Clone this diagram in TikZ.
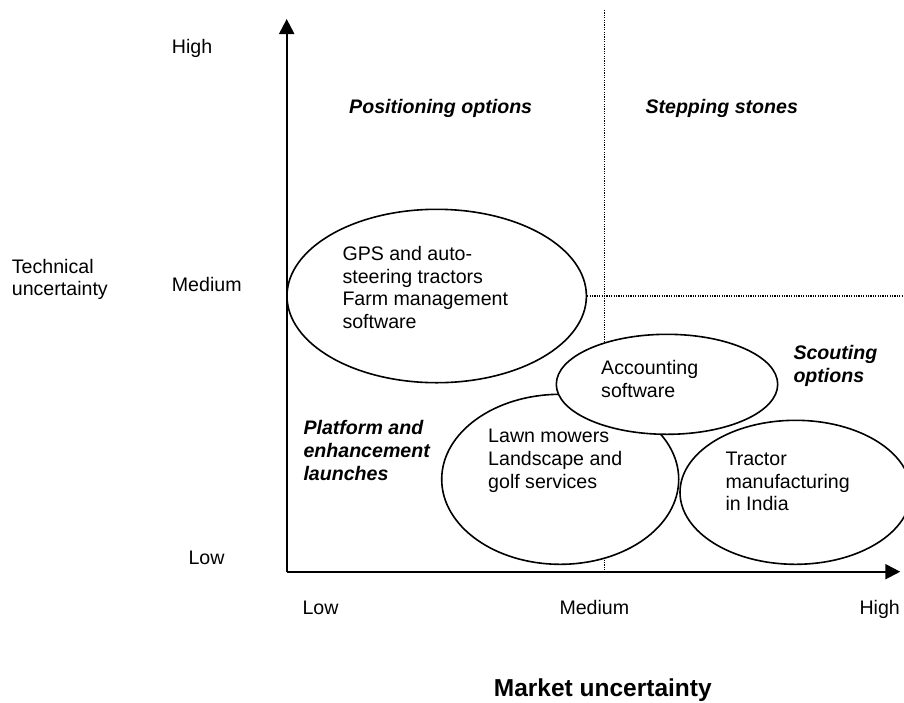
\documentclass[tikz,border=0pt]{standalone}
\usepackage{fontspec}
\setmainfont{Liberation Sans}
\usetikzlibrary{arrows.meta,shapes.geometric}

\begin{document}
\begin{tikzpicture}[x=1pt,y=-1pt,
  txt/.style={inner sep=0pt, font=\fontsize{19.6}{22.7}\selectfont},
  multi/.style={txt, align=left, anchor=north west},
  single/.style={txt, anchor=base west},
  quad/.style={inner sep=0pt, font=\fontsize{19.6}{22.7}\selectfont\bfseries\itshape},
  bubble/.style={ellipse, draw=black, line width=1.6pt, fill=white, inner sep=0pt},
  axis/.style={line width=2.1pt, -{Triangle[length=15pt,width=15pt]}},
  divider/.style={line width=1.2pt, dash pattern=on 1.2pt off 1.2pt}
]
\useasboundingbox (0,0) rectangle (904,702);

% quadrant dividers
\coordinate (vtop) at (604.3,10);
\coordinate (vbot) at (604.3,571.7);
\coordinate (hend) at (906,296);
\draw[divider] (vtop) -- (vbot);

% option bubbles (filled, so they hide the dividers)
\node[bubble, minimum width=299.4pt, minimum height=173.4pt] (gps) at (436.7,296) {};
\node[bubble, minimum width=237pt, minimum height=170pt] (lawn) at (560.2,479.3) {};
\node[bubble, minimum width=221.4pt, minimum height=100pt] (acct) at (667,384.3) {};
\node[bubble, minimum width=231pt, minimum height=144pt] (india) at (795.5,492.3) {};
\draw[divider] (gps.east) -- (hend);

% axes
\coordinate (origin) at (286.7,571.7);
\coordinate (ytip) at (286.7,19);
\coordinate (xtip) at (900.3,571.7);
\draw[axis] (origin) -- (ytip);
\draw[axis] (origin) -- (xtip);

% bubble contents
\node[multi] (gpstxt) at (342.3,245.9) {GPS and auto-\\steering tractors\\Farm management\\software};
\node[multi] (accttxt) at (601,360.2) {Accounting\\software};
\node[multi] (lawntxt) at (488,429.2) {Lawn mowers\\Landscape and\\golf services};
\node[multi] (indiatxt) at (725.3,451.9) {Tractor\\manufacturing\\in India};

% quadrant names
\node[quad, anchor=base west] (posopt) at (349,113.3) {Positioning options};
\node[quad, anchor=base west] (stones) at (645.3,113.3) {Stepping stones};
\node[quad, align=left, anchor=north west] (scout) at (793.3,345.2) {Scouting\\options};
\node[quad, align=left, anchor=north west] (platform) at (303.3,420.2) {Platform and\\enhancement\\launches};

% vertical axis labels
\node[multi] (ytitle) at (11.7,258.6) {Technical\\uncertainty};
\node[single] (yhigh) at (171.7,53.3) {High};
\node[single] (ymed) at (171.7,291.7) {Medium};
\node[single] (ylow) at (188.3,564.3) {Low};

% horizontal axis labels
\node[single] (xlow) at (302.3,614.3) {Low};
\node[single] (xmed) at (559.3,614.3) {Medium};
\node[single] (xhigh) at (859.3,614.3) {High};
\node[inner sep=0pt, anchor=base, font=\fontsize{24.5}{28}\selectfont\bfseries] (xtitle) at (602.8,696) {Market uncertainty};
\end{tikzpicture}
\end{document}
